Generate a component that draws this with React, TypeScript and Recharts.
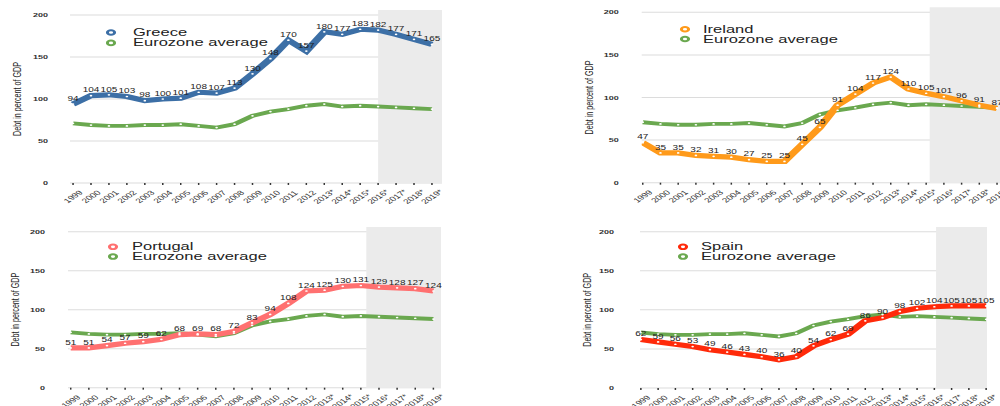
import React from 'react';
import {
  LineChart,
  Line,
  XAxis,
  YAxis,
  CartesianGrid,
  Legend,
  LabelList,
  ReferenceArea,
} from 'recharts';

const years = [
  '1999', '2000', '2001', '2002', '2003', '2004', '2005', '2006', '2007', '2008',
  '2009', '2010', '2011', '2012', '2013*', '2014*', '2015*', '2016*', '2017*',
  '2018*', '2019*',
];

const greece = [94, 104, 105, 103, 98, 100, 101, 108, 107, 113, 130, 148, 170, 157, 180, 177, 183, 182, 177, 171, 165];
const ireland = [47, 35, 35, 32, 31, 30, 27, 25, 25, 45, 65, 91, 104, 117, 124, 110, 105, 101, 96, 91, 87];
const portugal = [51, 51, 54, 57, 59, 62, 68, 69, 68, 72, 83, 94, 108, 124, 125, 130, 131, 129, 128, 127, 124];
const spain = [62, 59, 56, 53, 49, 46, 43, 40, 36, 40, 54, 62, 69, 86, 90, 98, 102, 104, 105, 105, 105];
const eurozone = [71, 69, 68, 68, 69, 69, 70, 68, 66, 70, 80, 85, 88, 92, 94, 91, 92, 91, 90, 89, 88];

const yTicks = [0, 50, 100, 150, 200];
const xTicks = years.map((_, i) => i);

const GREEN = '#6aa84f';
const FONT = '"Liberation Sans", Arial, Helvetica, sans-serif';
// the reference is squashed vertically, so every panel is drawn taller and scaled down
const S = 0.65;

interface PanelProps {
  name: string;
  values: number[];
  color: string;
  left: number;
  top: number;
  width: number;
  height: number;
  plotL: number;
  plotR: number;
  plotT: number;
  plotB: number;
  xMin: number;
  xMax: number;
  shadeFrom: number;
  tickGap: number;
  iconX: number;
  textX: number;
  rowY: number;
}

const XTick = (props: any) => {
  const { x, y, payload } = props;
  return (
    <text
      transform={`translate(${x},${y + 16}) rotate(-45)`}
      textAnchor="middle"
      dominantBaseline="central"
      fontSize={10}
      fill="#333"
      fontFamily={FONT}
    >
      {years[payload.value]}
    </text>
  );
};

function Panel(p: PanelProps) {
  const H = p.height / S;
  const axisW = 60;
  const mTop = (p.plotT - p.top) / S;
  const plotBpre = (p.plotB - p.top) / S;
  const mLeft = p.plotL - p.left - axisW;
  const mRight = p.left + p.width - p.plotR;
  const xh = H - plotBpre;
  const rows = years.map((year, i) => ({ i, year, country: p.values[i], euro: eurozone[i] }));
  const rowH = 10 / S;

  const legendItems = [
    { label: p.name, color: p.color },
    { label: 'Eurozone average', color: GREEN },
  ];

  return (
    <div
      style={{
        position: 'absolute',
        left: p.left,
        top: p.top,
        width: p.width,
        height: H,
        transform: `scaleY(${S})`,
        transformOrigin: '0 0',
      }}
    >
      <LineChart
        width={p.width}
        height={H}
        data={rows}
        margin={{ top: mTop, right: mRight, bottom: 0, left: mLeft }}
        style={{ fontFamily: FONT }}
      >
        <ReferenceArea
          x1={p.shadeFrom}
          x2={p.xMax}
          y1={0}
          y2={206}
          fill="#ebebeb"
          fillOpacity={1}
          stroke="none"
          ifOverflow="visible"
        />
        <CartesianGrid vertical={false} stroke="#dcdcdc" strokeWidth={1.5} />
        <XAxis
          type="number"
          dataKey="i"
          domain={[p.xMin, p.xMax]}
          allowDataOverflow={true}
          ticks={xTicks}
          interval={0}
          axisLine={false}
          tickLine={{ stroke: '#333', strokeWidth: 1.5 }}
          tickSize={3}
          height={xh}
          tick={<XTick />}
        />
        <YAxis
          domain={[0, 200]}
          ticks={yTicks}
          axisLine={false}
          tickLine={false}
          tickSize={0}
          tickMargin={p.tickGap}
          width={axisW}
          tick={{ fontSize: 9, fill: '#333', fontWeight: 'bold' }}
          label={{
            value: 'Debt in percent of GDP',
            angle: -90,
            position: 'insideLeft',
            offset: 7,
            style: { textAnchor: 'middle', fontSize: 11, fill: '#222' },
          }}
        />
        <Legend
          layout="horizontal"
          verticalAlign="middle"
          align="center"
          wrapperStyle={{
            left: p.iconX - 6 - p.left,
            top: (p.rowY - p.top) / S - rowH / 2,
            width: 'auto',
            height: 'auto',
          }}
          content={() => (
            <div style={{ fontFamily: FONT }}>
              {legendItems.map((it) => (
                <div
                  key={it.label}
                  style={{ display: 'flex', alignItems: 'center', height: rowH }}
                >
                  <svg width={12} height={12} style={{ marginRight: p.textX - p.iconX - 6 }}>
                    <circle cx={6} cy={6} r={3.6} fill="#fff" stroke={it.color} strokeWidth={3} />
                  </svg>
                  <span style={{ fontSize: 16.5, color: '#222', lineHeight: `${rowH}px` }}>
                    {it.label}
                  </span>
                </div>
              ))}
            </div>
          )}
        />
        <Line
          type="linear"
          dataKey="euro"
          stroke={GREEN}
          strokeWidth={6}
          dot={{ r: 1.3, fill: '#fff', stroke: 'none' }}
          activeDot={false}
          isAnimationActive={false}
        />
        <Line
          type="linear"
          dataKey="country"
          stroke={p.color}
          strokeWidth={8}
          dot={{ r: 1.3, fill: '#fff', stroke: 'none' }}
          activeDot={false}
          isAnimationActive={false}
        >
          <LabelList
            dataKey="country"
            position="top"
            offset={5}
            fontSize={10}
            fill="#222"
            fontFamily={FONT}
          />
        </Line>
      </LineChart>
    </div>
  );
}

export default function App() {
  return (
    <div
      style={{
        position: 'absolute',
        left: 0,
        top: 0,
        width: 1000,
        height: 406,
        overflow: 'hidden',
        background: '#fff',
      }}
    >
      <Panel
        name="Greece" values={greece} color="#3c6fa6"
        left={0} top={0} width={460} height={206}
        plotL={70} plotR={442} plotT={15} plotB={183}
        xMin={-0.17} xMax={20.56} shadeFrom={17} tickGap={22}
        iconX={111} textX={133} rowY={32.7}
      />
      <Panel
        name="Ireland" values={ireland} color="#ff9a1a"
        left={500} top={0} width={510} height={206}
        plotL={641.7} plotR={1005} plotT={12.3} plotB={182.7}
        xMin={-0.06} xMax={20.45} shadeFrom={16.2} tickGap={23}
        iconX={685} textX={703} rowY={29.3}
      />
      <Panel
        name="Portugal" values={portugal} color="#ff7070"
        left={0} top={200} width={460} height={206}
        plotL={68} plotR={441} plotT={231.7} plotB={387.7}
        xMin={-0.15} xMax={20.42} shadeFrom={16.3} tickGap={23}
        iconX={113} textX={132} rowY={246.7}
      />
      <Panel
        name="Spain" values={spain} color="#ff2a0a"
        left={500} top={200} width={495} height={206}
        plotL={640} plotR={987} plotT={231.7} plotB={388}
        xMin={-0.05} xMax={20.05} shadeFrom={17.1} tickGap={26}
        iconX={682.5} textX={701} rowY={246.7}
      />
    </div>
  );
}
